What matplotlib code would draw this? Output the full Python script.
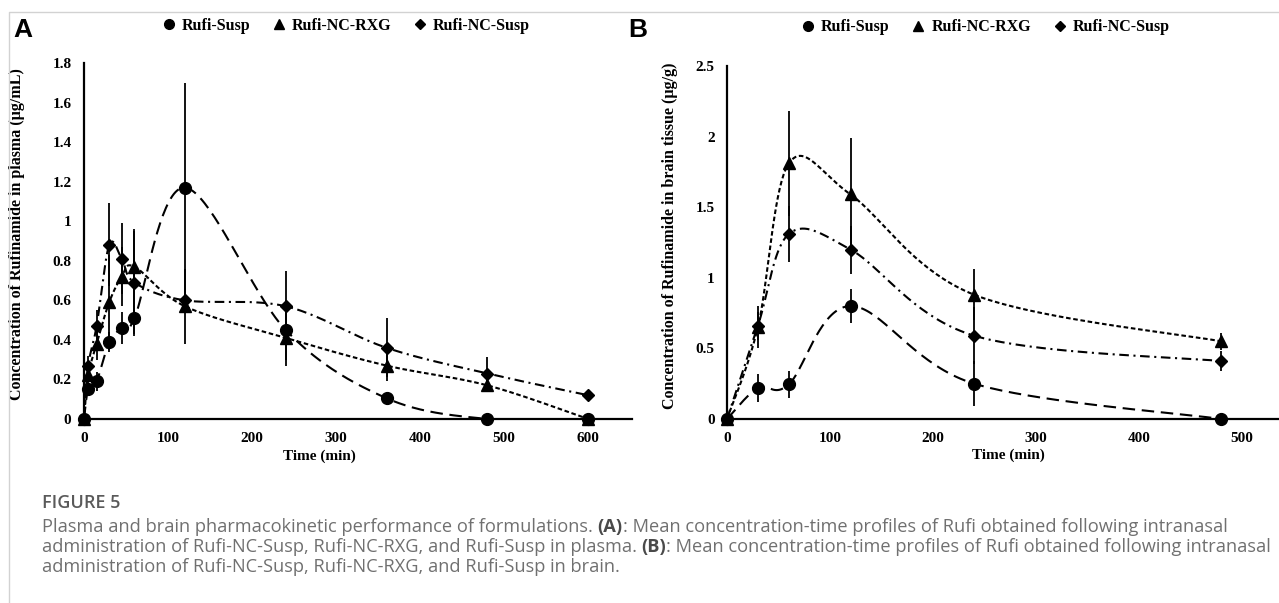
"""Plasma and brain PK profiles of the three Rufi formulations (Figure 5)."""

import numpy as np
import matplotlib.pyplot as plt
from matplotlib.lines import Line2D

plt.rcParams["font.family"] = "serif"
plt.rcParams["font.serif"] = ["Liberation Serif", "DejaVu Serif"]
plt.rcParams["font.weight"] = "bold"

# ---- data ----
LABELS = ["Rufi-Susp", "Rufi-NC-RXG", "Rufi-NC-Susp"]

time_a = [0, 5, 15, 30, 45, 60, 120, 240, 360, 480, 600]
susp_a = [0, 0.15, 0.19, 0.39, 0.46, 0.51, 1.17, 0.45, 0.105, 0, 0]
susp_a_err = [0, 0.03, 0.05, 0.05, 0.08, 0.09, 0.53, 0.15, 0.01, 0, 0]
rxg_a = [0, 0.22, 0.38, 0.59, 0.72, 0.77, 0.57, 0.41, 0.27, 0.17, 0]
rxg_a_err = [0, 0.04, 0.08, 0.24, 0.15, 0.19, 0.19, 0.14, 0.08, 0.03, 0]
ncs_a = [0, 0.27, 0.47, 0.88, 0.81, 0.69, 0.60, 0.57, 0.36, 0.23, 0.12]
ncs_a_err = [0, 0.05, 0.08, 0.21, 0.18, 0.26, 0.05, 0.18, 0.15, 0.085, 0.02]

time_b = [0, 30, 60, 120, 240, 480]
susp_b = [0, 0.22, 0.245, 0.80, 0.25, 0]
susp_b_err = [0, 0.10, 0.095, 0.12, 0.16, 0]
rxg_b = [0, 0.65, 1.81, 1.59, 0.88, 0.55]
rxg_b_err = [0, 0.15, 0.37, 0.40, 0.18, 0.06]
ncs_b = [0, 0.66, 1.31, 1.20, 0.59, 0.41]
ncs_b_err = [0, 0.10, 0.20, 0.17, 0.20, 0.07]

MARKERS = ["o", "^", "D"]
MSIZES = [8.5, 8.5, 6.2]
# dash patterns (in linewidth units): long dash, short dash, dash-dot
DASHES = [(0, (6.0, 3.2)), (0, (2.2, 1.3)), (0, (4.6, 2.2, 1.0, 2.2))]


def smooth(x, y, n=40):
    """Excel-style smoothed line (Catmull-Rom / cubic Bezier through points)."""
    p = np.column_stack([x, y]).astype(float)
    out = [p[0]]
    for i in range(len(p) - 1):
        p0 = p[i - 1] if i > 0 else p[i]
        p1, p2 = p[i], p[i + 1]
        p3 = p[i + 2] if i + 2 < len(p) else p[i + 1]
        b1 = p1 + (p2 - p0) / 6.0
        b2 = p2 - (p3 - p1) / 6.0
        t = np.linspace(0, 1, n)[1:, None]
        seg = ((1 - t) ** 3) * p1 + 3 * ((1 - t) ** 2) * t * b1 \
            + 3 * (1 - t) * t ** 2 * b2 + t ** 3 * p2
        out.extend(seg)
    out = np.array(out)
    return out[:, 0], out[:, 1]


def panel(ax, t, series, errs, xmax, ymax, ystep, ylabel, xlab_x, ylab_x, leg_x, leg_y):
    for k, (y, e) in enumerate(zip(series, errs)):
        sx, sy = smooth(t, y)
        ax.plot(sx, sy, color="black", lw=1.5, linestyle=DASHES[k], zorder=2)
        ax.errorbar(t, y, yerr=e, fmt="none", ecolor="black", elinewidth=1.3,
                    capsize=0, zorder=3)
        ax.plot(t, y, ls="none", marker=MARKERS[k], ms=MSIZES[k], color="black",
                zorder=4, clip_on=False)
    ax.set_xlim(0, xmax)
    ax.set_ylim(0, ymax)
    ax.set_xticks(np.arange(0, xmax, 100))
    ax.set_yticks(np.arange(0, ymax + 1e-9, ystep))
    ax.yaxis.set_major_formatter(plt.FuncFormatter(lambda v, _: f"{v:g}"))
    ax.tick_params(length=0, labelsize=11, pad=9)
    for s in ("top", "right"):
        ax.spines[s].set_visible(False)
    for s in ("left", "bottom"):
        ax.spines[s].set_linewidth(1.6)
    ax.set_xlabel("Time (min)", fontsize=11, fontweight="bold", va="top")
    ax.xaxis.set_label_coords(xlab_x, -0.085)
    ax.set_ylabel(ylabel, fontsize=11.5, fontweight="bold")
    ax.yaxis.set_label_coords(ylab_x, 0.52)

    handles = [Line2D([], [], ls="none", marker=MARKERS[k], ms=MSIZES[k] - 1.5,
                      color="black") for k in range(3)]
    ax.legend(handles, LABELS, ncol=3, loc="center", bbox_to_anchor=(leg_x, leg_y),
              frameon=False, prop={"weight": "bold", "size": 11.5},
              handlelength=0.6, handletextpad=0.5, columnspacing=1.5)


W, H = 1279, 603
fig = plt.figure(figsize=(W / 100, H / 100), dpi=100)

ax_a = fig.add_axes([84 / W, (H - 419) / H, (632 - 84) / W, (419 - 63) / H])
panel(ax_a, time_a, [susp_a, rxg_a, ncs_a], [susp_a_err, rxg_a_err, ncs_a_err],
      652, 1.8, 0.2, "Concentration of Rufinamide in plasma (µg/mL)",
      0.43, -0.107, 0.48, 1.105)

ax_b = fig.add_axes([727 / W, (H - 419) / H, (W - 727) / W, (419 - 66) / H])
panel(ax_b, time_b, [susp_b, rxg_b, ncs_b], [susp_b_err, rxg_b_err, ncs_b_err],
      536, 2.5, 0.5, "Concentration of Rufinamide in brain tissue (µg/g)",
      0.51, -0.089, 0.47, 1.11)

# panel letters
fig.text(23 / W, 1 - 30 / H, "A", family="Liberation Sans", weight="bold",
         fontsize=19, ha="center", va="center")
fig.text(638 / W, 1 - 30 / H, "B", family="Liberation Sans", weight="bold",
         fontsize=19, ha="center", va="center")

# card border (top and left)
fig.add_artist(Line2D([9 / W, 9 / W, 1], [0, 1 - 12 / H, 1 - 12 / H],
                      transform=fig.transFigure, color="#d2d2d2", lw=1))

# caption
CAP = "#707070"
fig.text(42 / W, 1 - 503 / H, "FIGURE 5", family="Open Sans", weight="semibold",
         fontsize=13, color="#5a5a5a", va="center")

caption_lines = [
    [("Plasma and brain pharmacokinetic performance of formulations. ", "normal"),
     ("(A)", "bold"),
     (": Mean concentration-time profiles of Rufi obtained following intranasal", "normal")],
    [("administration of Rufi-NC-Susp, Rufi-NC-RXG, and Rufi-Susp in plasma. ", "normal"),
     ("(B)", "bold"),
     (": Mean concentration-time profiles of Rufi obtained following intranasal", "normal")],
    [("administration of Rufi-NC-Susp, Rufi-NC-RXG, and Rufi-Susp in brain.", "normal")],
]
renderer = fig.canvas.get_renderer()
for i, parts in enumerate(caption_lines):
    x = 42
    y = 527 + i * 19.8
    for txt, wt in parts:
        tt = fig.text(x / W, 1 - y / H, txt, family="Open Sans", weight=wt,
                      fontsize=13.15, color=CAP if wt == "normal" else "#4a4a4a",
                      va="center")
        x += tt.get_window_extent(renderer).width

fig.savefig("out.png", dpi=100, facecolor="white")
